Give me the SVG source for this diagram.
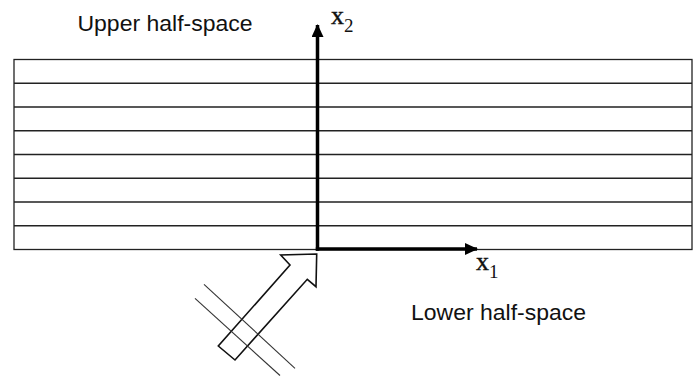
<svg xmlns="http://www.w3.org/2000/svg" width="696" height="376" viewBox="0 0 696 376">
<defs>
<style>
.layer{fill:none;stroke:#222;stroke-width:1.3}
.axis{fill:none;stroke:#000;stroke-width:3.5}
.lbl{font-family:"Liberation Sans",Arial,sans-serif;font-size:22px;fill:#111}
.var{font-family:"Liberation Serif","Times New Roman",serif;fill:#111}
.thin{fill:none;stroke:#333;stroke-width:1.1}
</style>
<marker id="ah" viewBox="0 0 13 12" refX="12" refY="6" markerWidth="13" markerHeight="12" markerUnits="userSpaceOnUse" orient="auto">
<path d="M0,0 L13,6 L0,12 z" fill="#000"/>
</marker>
</defs>
<rect width="696" height="376" fill="#fff"/>
<g id="layers">
<rect class="layer" x="14" y="59.5" width="678" height="190"/>
<path class="layer" d="M14,83.25H692M14,107H692M14,130.75H692M14,154.5H692M14,178.25H692M14,202H692M14,225.75H692"/>
</g>
<g id="connectors">
<line class="axis" x1="317.5" y1="250.7" x2="317.5" y2="25" marker-end="url(#ah)"/>
<line class="axis" x1="315.8" y1="249" x2="477" y2="249" marker-end="url(#ah)"/>
</g>
<g id="incident">
<path d="M316.7,254 L280.7,255 L290,265 L218.3,346 L235,360 L307.3,279.3 L316,286.7 Z" fill="none" stroke="#111" stroke-width="1.6" stroke-linejoin="miter"/>
<line class="thin" x1="204" y1="284.3" x2="295" y2="368.3"/>
<line class="thin" x1="195" y1="298.3" x2="280" y2="375.5"/>
</g>
<g id="labels">
<text class="lbl" x="77.5" y="31" textLength="175" lengthAdjust="spacingAndGlyphs">Upper half-space</text>
<text class="lbl" x="411" y="319.5" textLength="175" lengthAdjust="spacingAndGlyphs">Lower half-space</text>
<text class="var" x="331" y="23.5" font-size="26" stroke="#111" stroke-width="0.4">x<tspan font-size="19" stroke-width="0" y="31.7">2</tspan></text>
<text class="var" x="476" y="270" font-size="26" stroke="#111" stroke-width="0.4">x<tspan font-size="19" stroke-width="0" y="278.3">1</tspan></text>
</g>
</svg>
